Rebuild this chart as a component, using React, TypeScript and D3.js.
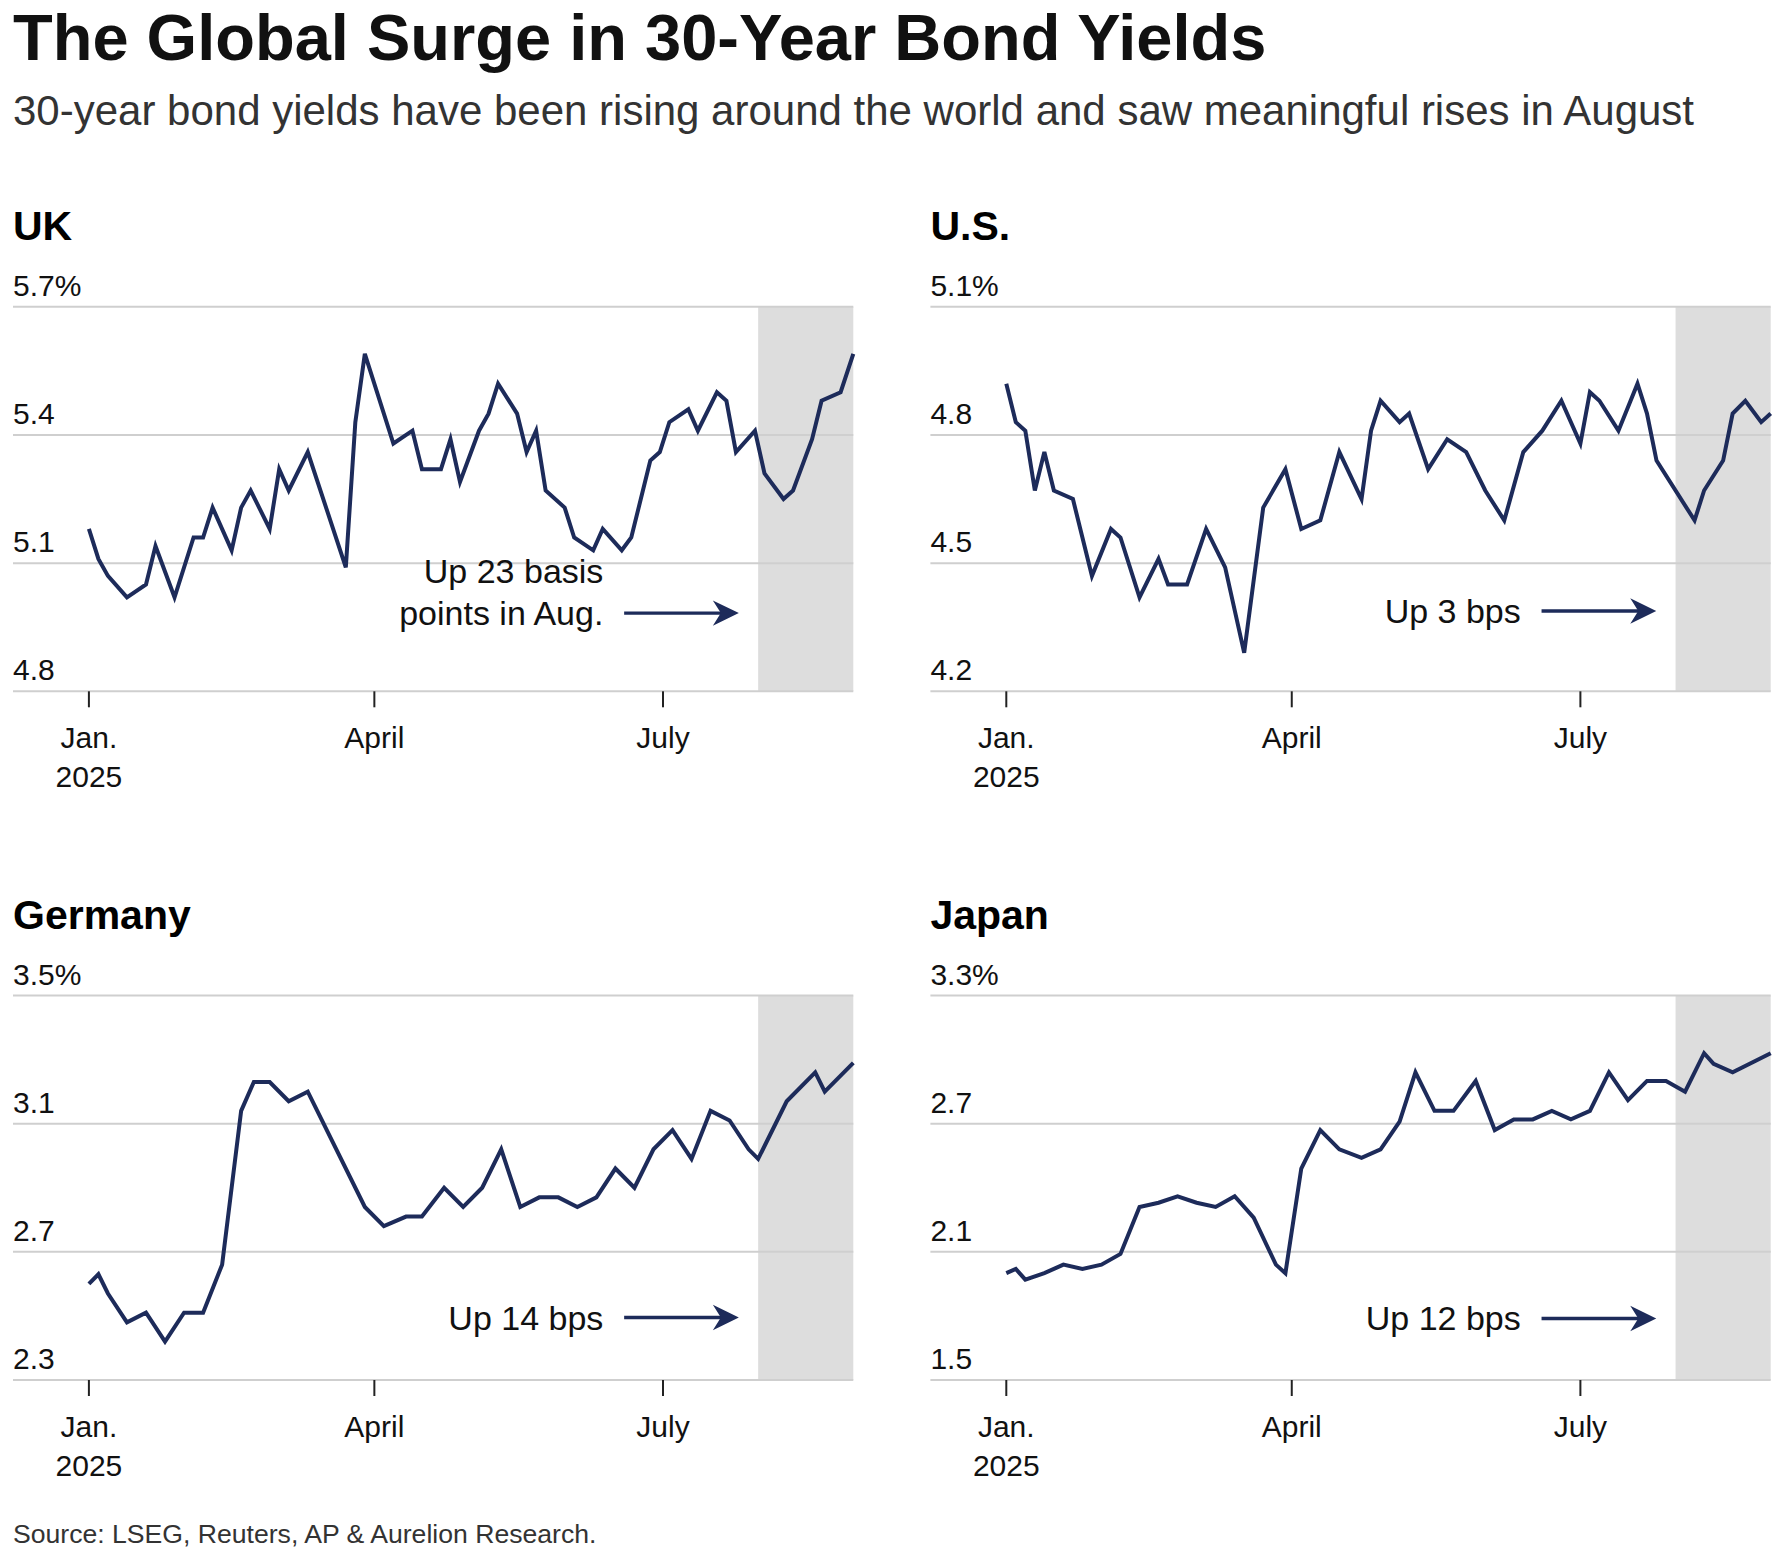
import * as d3 from "d3";

// ---- data ----
const ukDates = ["01-01","01-04","01-07","01-13","01-19","01-22","01-28","02-03","02-06","02-09","02-15","02-18","02-21","02-27","03-02","03-05","03-11","03-23","03-26","03-29","04-07","04-13","04-16","04-22","04-25","04-28","05-04","05-07","05-10","05-16","05-19","05-22","05-25","05-31","06-03","06-09","06-12","06-18","06-21","06-27","06-30","07-03","07-09","07-12","07-18","07-21","07-24","07-30","08-02","08-08","08-11","08-17","08-20","08-26","08-30"];
const ukYields = [5.18,5.11,5.07,5.02,5.05,5.14,5.02,5.16,5.16,5.23,5.13,5.23,5.27,5.18,5.32,5.27,5.36,5.09,5.43,5.59,5.38,5.41,5.32,5.32,5.39,5.29,5.41,5.45,5.52,5.45,5.36,5.41,5.27,5.23,5.16,5.13,5.18,5.13,5.16,5.34,5.36,5.43,5.46,5.41,5.50,5.48,5.36,5.41,5.31,5.25,5.27,5.39,5.48,5.50,5.59];

const usDates = ["01-01","01-04","01-07","01-10","01-13","01-16","01-22","01-28","02-03","02-06","02-12","02-18","02-21","02-27","03-05","03-11","03-17","03-23","03-30","04-04","04-10","04-16","04-23","04-26","04-29","05-05","05-08","05-14","05-20","05-26","06-01","06-07","06-13","06-19","06-25","07-01","07-04","07-07","07-13","07-19","07-22","07-25","08-06","08-09","08-15","08-18","08-22","08-27","08-30"];
const usYields = [4.92,4.83,4.81,4.67,4.76,4.67,4.65,4.47,4.58,4.56,4.42,4.51,4.45,4.45,4.58,4.49,4.29,4.63,4.72,4.58,4.60,4.76,4.65,4.81,4.88,4.83,4.85,4.72,4.79,4.76,4.67,4.60,4.76,4.81,4.88,4.78,4.90,4.88,4.81,4.92,4.85,4.74,4.60,4.67,4.74,4.85,4.88,4.83,4.85];

const deDates = ["01-01","01-04","01-07","01-13","01-19","01-25","01-31","02-06","02-12","02-18","02-22","02-27","03-05","03-11","03-29","04-04","04-11","04-16","04-23","04-29","05-05","05-11","05-17","05-23","05-29","06-04","06-10","06-16","06-22","06-28","07-04","07-10","07-16","07-22","07-28","07-31","08-09","08-18","08-21","08-30"];
const deYields = [2.60,2.63,2.57,2.48,2.51,2.42,2.51,2.51,2.66,3.14,3.23,3.23,3.17,3.20,2.84,2.78,2.81,2.81,2.90,2.84,2.90,3.02,2.84,2.87,2.87,2.84,2.87,2.96,2.90,3.02,3.08,2.99,3.14,3.11,3.02,2.99,3.17,3.26,3.20,3.29];

const jpDates = ["01-01","01-04","01-07","01-13","01-19","01-25","01-31","02-06","02-12","02-18","02-24","03-02","03-08","03-14","03-20","03-27","03-30","04-04","04-10","04-16","04-23","04-29","05-05","05-10","05-16","05-22","05-29","06-04","06-10","06-16","06-22","06-28","07-04","07-10","07-16","07-22","07-28","08-03","08-09","08-12","08-18","08-30"];
const jpYields = [2.00,2.02,1.97,2.00,2.04,2.02,2.04,2.09,2.31,2.33,2.36,2.33,2.31,2.36,2.26,2.04,2.00,2.49,2.67,2.58,2.54,2.58,2.71,2.94,2.76,2.76,2.90,2.67,2.72,2.72,2.76,2.72,2.76,2.94,2.81,2.90,2.90,2.85,3.03,2.98,2.94,3.03];

const ukTicks = [4.8, 5.1, 5.4, 5.7];
const usTicks = [4.2, 4.5, 4.8, 5.1];
const deTicks = [2.3, 2.7, 3.1, 3.5];
const jpTicks = [1.5, 2.1, 2.7, 3.3];

const xTickDates = ["01-01", "04-01", "07-01"];
const xTickLabels = [["Jan.", "2025"], ["April"], ["July"]];

// shaded month
const august = ["07-31", "08-30"];

const FONT = "'Liberation Sans', Arial, Helvetica, sans-serif";
const NAVY = "#1d2b5a";
const parse = d3.timeParse("%Y-%m-%d");
const day = (md: string) => parse("2025-" + md) as Date;

const panels = [
  { name: "UK", dates: ukDates, values: ukYields, ticks: ukTicks, note: ["Up 23 basis", "points in Aug."], noteAt: 4.983, col: 0, row: 0 },
  { name: "U.S.", dates: usDates, values: usYields, ticks: usTicks, note: ["Up 3 bps"], noteAt: 4.388, col: 1, row: 0 },
  { name: "Germany", dates: deDates, values: deYields, ticks: deTicks, note: ["Up 14 bps"], noteAt: 2.495, col: 0, row: 1 },
  { name: "Japan", dates: jpDates, values: jpYields, ticks: jpTicks, note: ["Up 12 bps"], noteAt: 1.788, col: 1, row: 1 },
];

const GRID_W = 840.3;
const PLOT_H = 384.5;

function Panel({ p }: { p: (typeof panels)[number] }) {
  const x0 = 13 + p.col * 917.4;
  const top = 306.8 + p.row * 688.7;
  const bottom = top + PLOT_H;

  const x = d3.scaleTime().domain([day("01-01"), day("08-30")]).range([x0 + 75.9, x0 + GRID_W]);
  const y = d3
    .scaleLinear()
    .domain([p.ticks[0], p.ticks[p.ticks.length - 1]])
    .range([bottom, top]);

  const pts = p.dates.map((d, i) => [day(d), p.values[i]] as [Date, number]);
  const line = d3
    .line<[Date, number]>()
    .x((d) => x(d[0]))
    .y((d) => y(d[1]));

  const bandX = x(day(august[0]));
  const bandX2 = x(day(august[1]));

  // annotation arrow, placed just left of the shaded month
  const ay = y(p.noteAt);
  const tip = bandX - 19.3;
  const headL = 26;
  const headH = 12.7;
  const notch = tip - 18;
  const lineStart = bandX - 134;
  const textEnd = bandX - 154.8;

  return (
    <g>
      <text x={x0} y={top - 67} fontSize={41} fontWeight="bold" fill="#000">
        {p.name}
      </text>

      <rect x={bandX} y={top} width={bandX2 - bandX} height={PLOT_H} fill="#dddddd" />

      {p.ticks.map((t, i) => (
        <g key={t}>
          <line x1={x0} x2={x0 + GRID_W} y1={y(t)} y2={y(t)} stroke="#cfcfcf" strokeWidth={2} />
          <text x={x0} y={y(t) - 11} fontSize={30} fill="#111">
            {t.toFixed(1) + (i === p.ticks.length - 1 ? "%" : "")}
          </text>
        </g>
      ))}

      {xTickDates.map((d, i) => (
        <g key={d}>
          <line x1={x(day(d))} x2={x(day(d))} y1={bottom} y2={bottom + 16} stroke="#222" strokeWidth={2} />
          {xTickLabels[i].map((lab, j) => (
            <text key={lab} x={x(day(d))} y={bottom + 57 + j * 39} fontSize={30} fill="#111" textAnchor="middle">
              {lab}
            </text>
          ))}
        </g>
      ))}

      <path d={line(pts) || ""} fill="none" stroke={NAVY} strokeWidth={4} />

      {p.note.map((t, i) => (
        <text
          key={t}
          x={textEnd}
          y={ay + 12 - (p.note.length - 1 - i) * 42}
          fontSize={34}
          fill="#111"
          textAnchor="end"
        >
          {t}
        </text>
      ))}
      <line x1={lineStart} x2={notch + 2} y1={ay} y2={ay} stroke={NAVY} strokeWidth={3.3} />
      <path
        d={`M${tip},${ay} L${tip - headL},${ay - headH} L${notch},${ay} L${tip - headL},${ay + headH} Z`}
        fill={NAVY}
      />
    </g>
  );
}

export default function App() {
  return (
    <svg
      width={1787}
      height={1550}
      style={{ position: "absolute", left: 0, top: 0, background: "#fff" }}
      fontFamily={FONT}
    >
      <text x={13} y={60} fontSize={65} fontWeight="bold" fill="#111">
        The Global Surge in 30-Year Bond Yields
      </text>
      <text x={13} y={125} fontSize={42} fill="#333">
        30-year bond yields have been rising around the world and saw meaningful rises in August
      </text>

      {panels.map((p) => (
        <Panel key={p.name} p={p} />
      ))}

      <text x={13} y={1543} fontSize={26.6} fill="#333">
        Source: LSEG, Reuters, AP &amp; Aurelion Research.
      </text>
    </svg>
  );
}
